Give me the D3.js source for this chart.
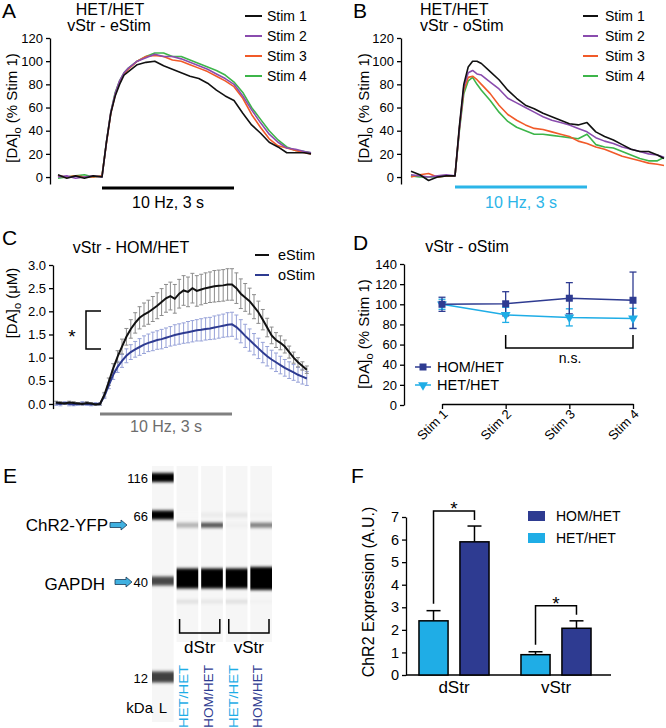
<!DOCTYPE html>
<html><head><meta charset="utf-8">
<script src="https://cdn.jsdelivr.net/npm/d3@7"></script>
<style>body{margin:0;background:#fff}</style>
</head><body>
<script>
// ================= DATA =================
// Panels A & B : time (s) relative to stimulation onset
const timeAB = [-1,-0.8,-0.6,-0.4,-0.2,0,0.1,0.2,0.3,0.4,0.5,0.6,0.8,1.0,1.2,1.4,1.6,1.8,2.0,2.2,2.4,2.6,2.8,3.0,3.2,3.4,3.6,3.8,4.0,4.2,4.4,4.6,4.75];
const stimNames = ["Stim 1","Stim 2","Stim 3","Stim 4"];
const stimColors = ["#111111","#8a4cae","#f15a29","#3db54a"];
// A: HET/HET vStr eStim (% Stim 1)
const a_stim1 = [2,-1,1,-1,1,0,30,55,70,80,88,91,97,99,100,96,93,90,87,85,81,75,70,66,55,45,38,30,26,21,21,21,20];
const a_stim2 = [0,1,-1,0,1,0,30,56,72,83,90,94,100,103,106,104,104,102,99,96,93,89,85,80,70,58,47,37,30,25,24,22,21];
const a_stim3 = [1,0,1,0,0,1,29,55,71,82,89,93,100,104,105,104,101,100,97,94,91,87,83,78,68,54,43,33,27,25,23,21,20];
const a_stim4 = [-1,0,1,2,0,1,30,56,73,83,90,94,100,104,107,107,104,104,101,98,95,92,88,82,73,60,50,40,32,26,23,22,21];
// B: HET/HET vStr oStim (% Stim 1)
const b_stim1 = [5,2,-3,0,1,1,44,80,95,100,100,98,91,84,75,68,62,59,55,52,49,46,45,47,39,35,32,28,24,22,22,19,16];
const b_stim2 = [2,1,0,1,2,1,42,78,90,92,89,88,82,76,68,64,60,56,52,49,47,45,42,39,34,31,29,26,24,22,20,19,17];
const b_stim3 = [0,2,3,0,1,1,42,75,86,87,84,80,72,62,54,49,45,42,41,39,37,35,31,29,26,24,21,18,16,14,12,11,10];
const b_stim4 = [1,0,0,0,1,1,40,72,83,86,80,75,66,56,48,43,40,37,37,36,35,34,33,37,28,26,25,22,19,16,14,14,17];

// Panel C : vStr HOM/HET, [DA]o (uM), mean and SEM
const timeC = [-1.0,-0.9,-0.8,-0.7,-0.6,-0.5,-0.4,-0.3,-0.2,-0.1,0.0,0.1,0.2,0.3,0.4,0.5,0.6,0.7,0.8,0.9,1.0,1.1,1.2,1.3,1.4,1.5,1.6,1.7,1.8,1.9,2.0,2.1,2.2,2.3,2.4,2.5,2.6,2.7,2.8,2.9,3.0,3.1,3.2,3.3,3.4,3.5,3.6,3.7,3.8,3.9,4.0,4.1,4.2,4.3,4.4,4.5,4.6,4.7];
const eStimMean = [0.03,0.02,0.01,0.03,0.02,0.01,0.0,0.02,0.01,-0.01,
  0.0,0.2,0.48,0.77,1.02,1.24,1.45,1.62,1.75,1.86,1.93,1.98,2.05,2.12,2.2,2.28,2.33,2.27,2.38,2.45,2.42,2.5,2.44,2.47,2.5,2.52,2.54,2.55,2.56,2.58,2.58,2.5,2.38,2.3,2.22,2.1,1.98,1.82,1.65,1.48,1.38,1.32,1.24,1.12,1.0,0.9,0.82,0.74];
const eStimSem = [0.03,0.03,0.02,0.03,0.03,0.02,0.02,0.03,0.02,0.02,
  0.02,0.05,0.08,0.1,0.13,0.16,0.18,0.2,0.22,0.24,0.25,0.26,0.27,0.28,0.29,0.3,0.3,0.31,0.31,0.32,0.32,0.32,0.33,0.33,0.33,0.33,0.34,0.34,0.34,0.34,0.34,0.33,0.32,0.3,0.28,0.26,0.24,0.22,0.2,0.18,0.16,0.15,0.14,0.13,0.12,0.1,0.09,0.08];
const oStimMean = [0.01,0.0,0.02,0.0,-0.01,0.0,0.01,0.0,-0.01,0.0,
  0.0,0.17,0.4,0.63,0.8,0.93,1.04,1.12,1.18,1.23,1.28,1.32,1.35,1.38,1.4,1.43,1.46,1.49,1.51,1.53,1.55,1.57,1.59,1.6,1.62,1.63,1.65,1.67,1.69,1.71,1.72,1.66,1.57,1.47,1.38,1.29,1.2,1.11,1.03,0.96,0.9,0.84,0.78,0.73,0.68,0.63,0.59,0.55];
const oStimSem = [0.04,0.04,0.03,0.04,0.03,0.03,0.04,0.03,0.03,0.03,
  0.03,0.05,0.07,0.1,0.12,0.14,0.15,0.16,0.17,0.18,0.19,0.19,0.2,0.2,0.21,0.21,0.21,0.22,0.22,0.22,0.23,0.23,0.23,0.24,0.24,0.24,0.25,0.25,0.25,0.26,0.26,0.26,0.25,0.25,0.24,0.23,0.22,0.22,0.21,0.2,0.2,0.19,0.18,0.18,0.17,0.16,0.16,0.15];

// Panel D : vStr oStim, % Stim 1
const dStimLabels = ["Stim 1","Stim 2","Stim 3","Stim 4"];
const homMeanD = [100,100.5,106,104];
const homSemD  = [7,12,15.5,28];
const hetMeanD = [100,89.5,87,86];
const hetSemD  = [5,7.5,8.5,10];

// Panel E : capillary western "virtual blot"
const ladderKDa = [116,66,40,12];
const ladderDarkness = [1,1,0.72,0.75];
const gelLanes = ["L","dStr HET/HET","dStr HOM/HET","vStr HET/HET","vStr HOM/HET"];
const sampleGenotype = ["HET/HET","HOM/HET","HET/HET","HOM/HET"];
const chr2Darkness  = [0.3,0.68,0.06,0.5];   // ~62 kDa
const band66Darkness = [0.03,0.08,0.1,0.05];  // ~66 kDa faint
const gapdhDarkness = [1,1,1,1];             // ~41 kDa
const band34Darkness = [0.12,0.1,0.12,0.05];  // ~34 kDa faint

// Panel F : ChR2 expression (A.U.)
const regionsF = ["dStr","vStr"];
const hetF = [2.4,0.9];   const hetErrF = [0.45,0.13];
const homF = [5.9,2.07];  const homErrF = [0.7,0.33];

// ================= DRAWING =================
const FONT = "'Liberation Sans', Arial, Helvetica, sans-serif";
const HOM = "#2e3b91", HET = "#1fade6";
const svg = d3.select("body").append("svg").attr("width",666).attr("height",728)
  .attr("font-family",FONT);
svg.append("rect").attr("width",666).attr("height",728).attr("fill","#fff");

function txt(x,y,s,size,opts={}) {
  const t = svg.append("text").attr("x",x).attr("y",y).attr("font-size",size)
    .attr("fill",opts.fill||"#000").attr("text-anchor",opts.anchor||"start").text(s);
  return t;
}
function yAxis(scale,x,ticks,fmt,size=13) {
  const g = svg.append("g").attr("transform",`translate(${x},0)`)
    .call(d3.axisLeft(scale).tickValues(ticks).tickFormat(fmt).tickSize(4).tickSizeOuter(0).tickPadding(3));
  g.attr("font-family",FONT).attr("font-size",size);
  g.select(".domain").attr("stroke","#000").attr("stroke-width",1.3);
  g.selectAll(".tick line").attr("stroke","#000").attr("stroke-width",1.3);
  g.selectAll(".tick text").attr("fill","#000");
  return g;
}
function yTitleDA(x,y,unit) {
  const t = svg.append("text").attr("transform",`translate(${x},${y}) rotate(-90)`)
    .attr("text-anchor","middle").attr("font-size",15).attr("fill","#000");
  t.append("tspan").text("[DA]");
  t.append("tspan").attr("dy",4).attr("font-size",11).text("o");
  t.append("tspan").attr("dy",-4).text(" " + unit);
}
function panelLetter(x,y,s){ txt(x,y,s,21); }

// ---------- Panel A ----------
{
  const x = d3.scaleLinear().domain([0,3]).range([102,234]);
  const y = d3.scaleLinear().domain([-6,120]).range([184,38]);
  yAxis(y,50,d3.range(0,121,20),d3.format("d"));
  const line = d3.line().x((d,i)=>x(timeAB[i])).y(d=>y(d));
  const series = [a_stim1,a_stim2,a_stim3,a_stim4];
  [3,2,1,0].forEach(k=>{
    svg.append("path").datum(series[k]).attr("d",line).attr("fill","none")
      .attr("stroke",stimColors[k]).attr("stroke-width",1.6).attr("stroke-linejoin","round");
  });
  svg.append("line").attr("x1",x(0)).attr("x2",x(3)).attr("y1",188).attr("y2",188)
    .attr("stroke","#000").attr("stroke-width",3);
  txt((x(0)+x(3))/2,208,"10 Hz, 3 s",16,{anchor:"middle"});
  txt(110,15,"HET/HET",16,{anchor:"middle"});
  txt(109,31,"vStr - eStim",16,{anchor:"middle"});
  stimNames.forEach((n,i)=>{
    const yy = 16 + i*20;
    svg.append("line").attr("x1",245).attr("x2",262).attr("y1",yy).attr("y2",yy)
      .attr("stroke",stimColors[i]).attr("stroke-width",2);
    txt(267,yy+5,n,14);
  });
  yTitleDA(17,108,"(% Stim 1)");
  panelLetter(2,18,"A");
}

// ---------- Panel B ----------
{
  const x = d3.scaleLinear().domain([0,3]).range([455,587]);
  const y = d3.scaleLinear().domain([-6,120]).range([184,38]);
  yAxis(y,401,d3.range(0,121,20),d3.format("d"));
  const line = d3.line().x((d,i)=>x(timeAB[i])).y(d=>y(d));
  const series = [b_stim1,b_stim2,b_stim3,b_stim4];
  [3,2,1,0].forEach(k=>{
    svg.append("path").datum(series[k]).attr("d",line).attr("fill","none")
      .attr("stroke",stimColors[k]).attr("stroke-width",1.6).attr("stroke-linejoin","round");
  });
  svg.append("line").attr("x1",x(0)).attr("x2",x(3)).attr("y1",187).attr("y2",187)
    .attr("stroke","#2bb5e8").attr("stroke-width",3);
  txt((x(0)+x(3))/2,208,"10 Hz, 3 s",16,{anchor:"middle",fill:"#2bb5e8"});
  txt(420,15,"HET/HET",16);
  txt(420,31,"vStr - oStim",16);
  stimNames.forEach((n,i)=>{
    const yy = 16 + i*20;
    svg.append("line").attr("x1",583).attr("x2",598).attr("y1",yy).attr("y2",yy)
      .attr("stroke",stimColors[i]).attr("stroke-width",2);
    txt(605,yy+5,n,14);
  });
  yTitleDA(369,108,"(% Stim 1)");
  panelLetter(353,18,"B");
}

// ---------- Panel C ----------
{
  const x = d3.scaleLinear().domain([0,3]).range([100,232]);
  const y = d3.scaleLinear().domain([-0.1,3]).range([408.6,265]);
  yAxis(y,53,d3.range(0,3.01,0.5),d3.format(".1f"));
  const drawErr = (mean,sem,color)=>{
    const g = svg.append("g").attr("stroke",color).attr("stroke-width",1);
    mean.forEach((m,i)=>{
      const xx = x(timeC[i]), y1 = y(m+sem[i]), y2 = y(m-sem[i]);
      g.append("line").attr("x1",xx).attr("x2",xx).attr("y1",y1).attr("y2",y2);
      g.append("line").attr("x1",xx-2).attr("x2",xx+2).attr("y1",y1).attr("y2",y1);
      g.append("line").attr("x1",xx-2).attr("x2",xx+2).attr("y1",y2).attr("y2",y2);
    });
  };
  drawErr(oStimMean,oStimSem,"#97a2d8");
  drawErr(eStimMean,eStimSem,"#8c8c8c");
  const line = d3.line().x((d,i)=>x(timeC[i])).y(d=>y(d));
  svg.append("path").datum(oStimMean).attr("d",line).attr("fill","none")
    .attr("stroke",HOM).attr("stroke-width",2);
  svg.append("path").datum(eStimMean).attr("d",line).attr("fill","none")
    .attr("stroke","#111").attr("stroke-width",2);
  svg.append("line").attr("x1",x(0)).attr("x2",x(3)).attr("y1",414).attr("y2",414)
    .attr("stroke","#808080").attr("stroke-width",3);
  txt((x(0)+x(3))/2,432,"10 Hz, 3 s",16,{anchor:"middle",fill:"#6d6d6d"});
  txt(131,253,"vStr - HOM/HET",16,{anchor:"middle"});
  [["eStim","#111"],["oStim",HOM]].forEach((d,i)=>{
    const yy = 255 + i*20;
    svg.append("line").attr("x1",255).attr("x2",269).attr("y1",yy).attr("y2",yy)
      .attr("stroke",d[1]).attr("stroke-width",2);
    txt(278,yy+5,d[0],14.5);
  });
  svg.append("path").attr("d","M101,311 H86 V349 H101").attr("fill","none")
    .attr("stroke","#000").attr("stroke-width",1.5);
  txt(72,343,"*",19,{anchor:"middle"});
  yTitleDA(17,303,"(\u03bcM)");
  panelLetter(2,245,"C");
}

// ---------- Panel D ----------
{
  const x = d3.scalePoint().domain(dStimLabels).range([442,633]);
  const y = d3.scaleLinear().domain([0,140]).range([405,264]);
  yAxis(y,404,d3.range(0,141,20),d3.format("d"));
  const gx = svg.append("g").attr("transform","translate(0,404)")
    .call(d3.axisBottom(x).tickSize(5).tickSizeOuter(0));
  gx.attr("font-family",FONT).attr("font-size",13);
  gx.select(".domain").attr("stroke","#000").attr("stroke-width",1.3);
  gx.selectAll(".tick line").attr("stroke","#000").attr("stroke-width",1.3);
  gx.selectAll(".tick text").attr("fill","#000").attr("x",0).attr("y",0).attr("dy",0)
    .attr("transform","translate(6,11) rotate(-45)").style("text-anchor","end");
  const line = d3.line().x((d,i)=>x(dStimLabels[i])).y(d=>y(d));
  const drawSeries = (mean,sem,color)=>{
    svg.append("path").datum(mean).attr("d",line).attr("fill","none")
      .attr("stroke",color).attr("stroke-width",1.5);
    const g = svg.append("g").attr("stroke",color).attr("stroke-width",1.3);
    mean.forEach((m,i)=>{
      const xx = x(dStimLabels[i]), y1=y(m+sem[i]), y2=y(m-sem[i]);
      g.append("line").attr("x1",xx).attr("x2",xx).attr("y1",y1).attr("y2",y2);
      g.append("line").attr("x1",xx-3.5).attr("x2",xx+3.5).attr("y1",y1).attr("y2",y1);
      g.append("line").attr("x1",xx-3.5).attr("x2",xx+3.5).attr("y1",y2).attr("y2",y2);
    });
  };
  drawSeries(hetMeanD,hetSemD,HET);
  drawSeries(homMeanD,homSemD,HOM);
  const tri = d3.symbol().type(d3.symbolTriangle).size(42);
  hetMeanD.forEach((m,i)=>{
    svg.append("path").attr("d",tri()).attr("fill",HET)
      .attr("transform",`translate(${x(dStimLabels[i])},${y(m)}) rotate(180)`);
  });
  homMeanD.forEach((m,i)=>{
    svg.append("rect").attr("x",x(dStimLabels[i])-3.5).attr("y",y(m)-3.5)
      .attr("width",7).attr("height",7).attr("fill",HOM);
  });
  // n.s. bracket
  svg.append("path").attr("d",`M${x("Stim 2")},335 V348 H${x("Stim 4")} V335`)
    .attr("fill","none").attr("stroke","#000").attr("stroke-width",1.5);
  txt(570,363,"n.s.",14,{anchor:"middle"});
  // legend
  svg.append("line").attr("x1",415).attr("x2",431).attr("y1",367).attr("y2",367).attr("stroke",HOM).attr("stroke-width",1.5);
  svg.append("rect").attr("x",419.5).attr("y",363.5).attr("width",7).attr("height",7).attr("fill",HOM);
  txt(437,372,"HOM/HET",14.5);
  svg.append("line").attr("x1",415).attr("x2",431).attr("y1",385).attr("y2",385).attr("stroke",HET).attr("stroke-width",1.5);
  svg.append("path").attr("d",tri()).attr("fill",HET).attr("transform","translate(423,385) rotate(180)");
  txt(437,390,"HET/HET",14.5);
  txt(467,252,"vStr - oStim",16,{anchor:"middle"});
  yTitleDA(369,334,"(% Stim 1)");
  panelLetter(353,250,"D");
}

// ---------- Panel E ----------
{
  const defs = svg.append("defs");
  defs.append("filter").attr("id","blurV").attr("x","-10%").attr("y","-150%")
    .attr("width","120%").attr("height","400%")
    .append("feGaussianBlur").attr("stdDeviation","0.3 1.6");
  const x = d3.scaleBand().domain(gelLanes).range([152,272]).paddingInner(0.12);
  const y = d3.scaleLinear().domain(ladderKDa).range([477.5,515,581,677]);
  const bw = x.bandwidth();
  // lane backgrounds
  svg.append("rect").attr("x",x("L")).attr("y",466).attr("width",bw).attr("height",256).attr("fill","#f6f6f6");
  gelLanes.slice(1).forEach(l=>{
    svg.append("rect").attr("x",x(l)).attr("y",466).attr("width",bw).attr("height",176).attr("fill","#f6f6f6");
  });
  const gray = d=>{ const v = Math.round(255*(1-d)); return `rgb(${v},${v},${v})`; };
  const band = (lane,kda,dark,h)=>{
    svg.append("rect").attr("x",x(lane)).attr("y",y(kda)-h/2).attr("width",bw).attr("height",h)
      .attr("fill",gray(dark)).attr("filter","url(#blurV)");
  };
  ladderKDa.forEach((k,i)=> band("L",k,ladderDarkness[i], i===3?11:9));
  gelLanes.slice(1).forEach((l,i)=>{
    band(l,66,band66Darkness[i],5);
    band(l,62,chr2Darkness[i],5);
    band(l,41,gapdhDarkness[i], i===3?23:20);
    band(l,34,band34Darkness[i],4);
  });
  // ladder labels
  ladderKDa.forEach(k=> txt(148,y(k)+5.5,String(k),13,{anchor:"end"}));
  txt(153,713,"kDa",15,{anchor:"end"});
  txt(163,713,"L",15,{anchor:"middle"});
  // band labels with arrows
  const arrow = (x0,x1,yc)=>{
    svg.append("path").attr("d",`M${x0},${yc-2.5} H${x1-6} V${yc-5} L${x1},${yc} L${x1-6},${yc+5} V${yc+2.5} H${x0} Z`)
      .attr("fill","#3fb0e0").attr("stroke","#1d3a55").attr("stroke-width",0.8);
  };
  txt(108,531,"ChR2-YFP",17,{anchor:"end"});
  arrow(110,127,525);
  txt(105,590,"GAPDH",17,{anchor:"end"});
  arrow(115,132,582);
  // region brackets
  const lanes = gelLanes.slice(1);
  [[0,1,"dStr"],[2,3,"vStr"]].forEach(([a,b,name])=>{
    const x1 = x(lanes[a])+3, x2 = x(lanes[b])+bw-3;
    svg.append("path").attr("d",`M${x1},619 V633 H${x2} V619`).attr("fill","none")
      .attr("stroke","#000").attr("stroke-width",1.5);
    txt((x1+x2)/2,653,name,17,{anchor:"middle"});
  });
  lanes.forEach((l,i)=>{
    const cx = x(l)+bw/2 + 1;
    svg.append("text").attr("transform",`translate(${cx},665) rotate(-90)`)
      .attr("text-anchor","end").attr("font-size",12.5)
      .attr("textLength",63).attr("lengthAdjust","spacingAndGlyphs")
      .attr("fill", sampleGenotype[i]==="HET/HET" ? HET : HOM).text(sampleGenotype[i]);
  });
  panelLetter(3,483,"E");
}

// ---------- Panel F ----------
{
  const x0 = d3.scaleBand().domain(regionsF).range([403,607]);
  const x1 = d3.scaleBand().domain(["HET/HET","HOM/HET"]).range([0,x0.bandwidth()])
    .paddingInner(0.29).paddingOuter(0.39);
  const y = d3.scaleLinear().domain([0,7]).range([675,517]);
  yAxis(y,406,d3.range(0,8,1),d3.format("d"),14.5);
  svg.append("line").attr("x1",406).attr("x2",611).attr("y1",675).attr("y2",675)
    .attr("stroke","#000").attr("stroke-width",1.3);
  const bw = x1.bandwidth();
  const groups = [["HET/HET",hetF,hetErrF,HET],["HOM/HET",homF,homErrF,HOM]];
  regionsF.forEach((r,i)=>{
    groups.forEach(([g,vals,errs,col])=>{
      const bx = x0(r)+x1(g), cx = bx+bw/2;
      // error bar (upper)
      svg.append("line").attr("x1",cx).attr("x2",cx).attr("y1",y(vals[i])).attr("y2",y(vals[i]+errs[i]))
        .attr("stroke","#000").attr("stroke-width",1.5);
      svg.append("line").attr("x1",cx-7).attr("x2",cx+7).attr("y1",y(vals[i]+errs[i])).attr("y2",y(vals[i]+errs[i]))
        .attr("stroke","#000").attr("stroke-width",1.5);
      svg.append("rect").attr("x",bx).attr("y",y(vals[i])).attr("width",bw)
        .attr("height",y(0)-y(vals[i])).attr("fill",col).attr("stroke","#000").attr("stroke-width",1.5);
    });
    // significance bracket
    const cl = x0(r)+x1("HET/HET")+bw/2, cr = x0(r)+x1("HOM/HET")+bw/2;
    const lb = y(hetF[i]+hetErrF[i])-7, rb = y(homF[i]+homErrF[i])-6, top = rb-9;
    svg.append("path").attr("d",`M${cl},${lb} V${top} H${cr} V${rb}`).attr("fill","none")
      .attr("stroke","#000").attr("stroke-width",1.5);
    txt((cl+cr)/2,top+4,"*",19,{anchor:"middle"});
    txt(x0(r)+x0.bandwidth()/2,693,r,17,{anchor:"middle"});
  });
  // legend
  svg.append("rect").attr("x",528).attr("y",511).attr("width",17).attr("height",10).attr("fill",HOM);
  txt(556,521,"HOM/HET",14);
  svg.append("rect").attr("x",528).attr("y",533).attr("width",17).attr("height",10).attr("fill",HET);
  txt(556,543,"HET/HET",14);
  svg.append("text").attr("transform","translate(374,592) rotate(-90)").attr("text-anchor","middle")
    .attr("font-size",16).attr("fill","#000").text("ChR2 Expression (A.U.)");
  panelLetter(351,483,"F");
}
</script>
</body></html>
